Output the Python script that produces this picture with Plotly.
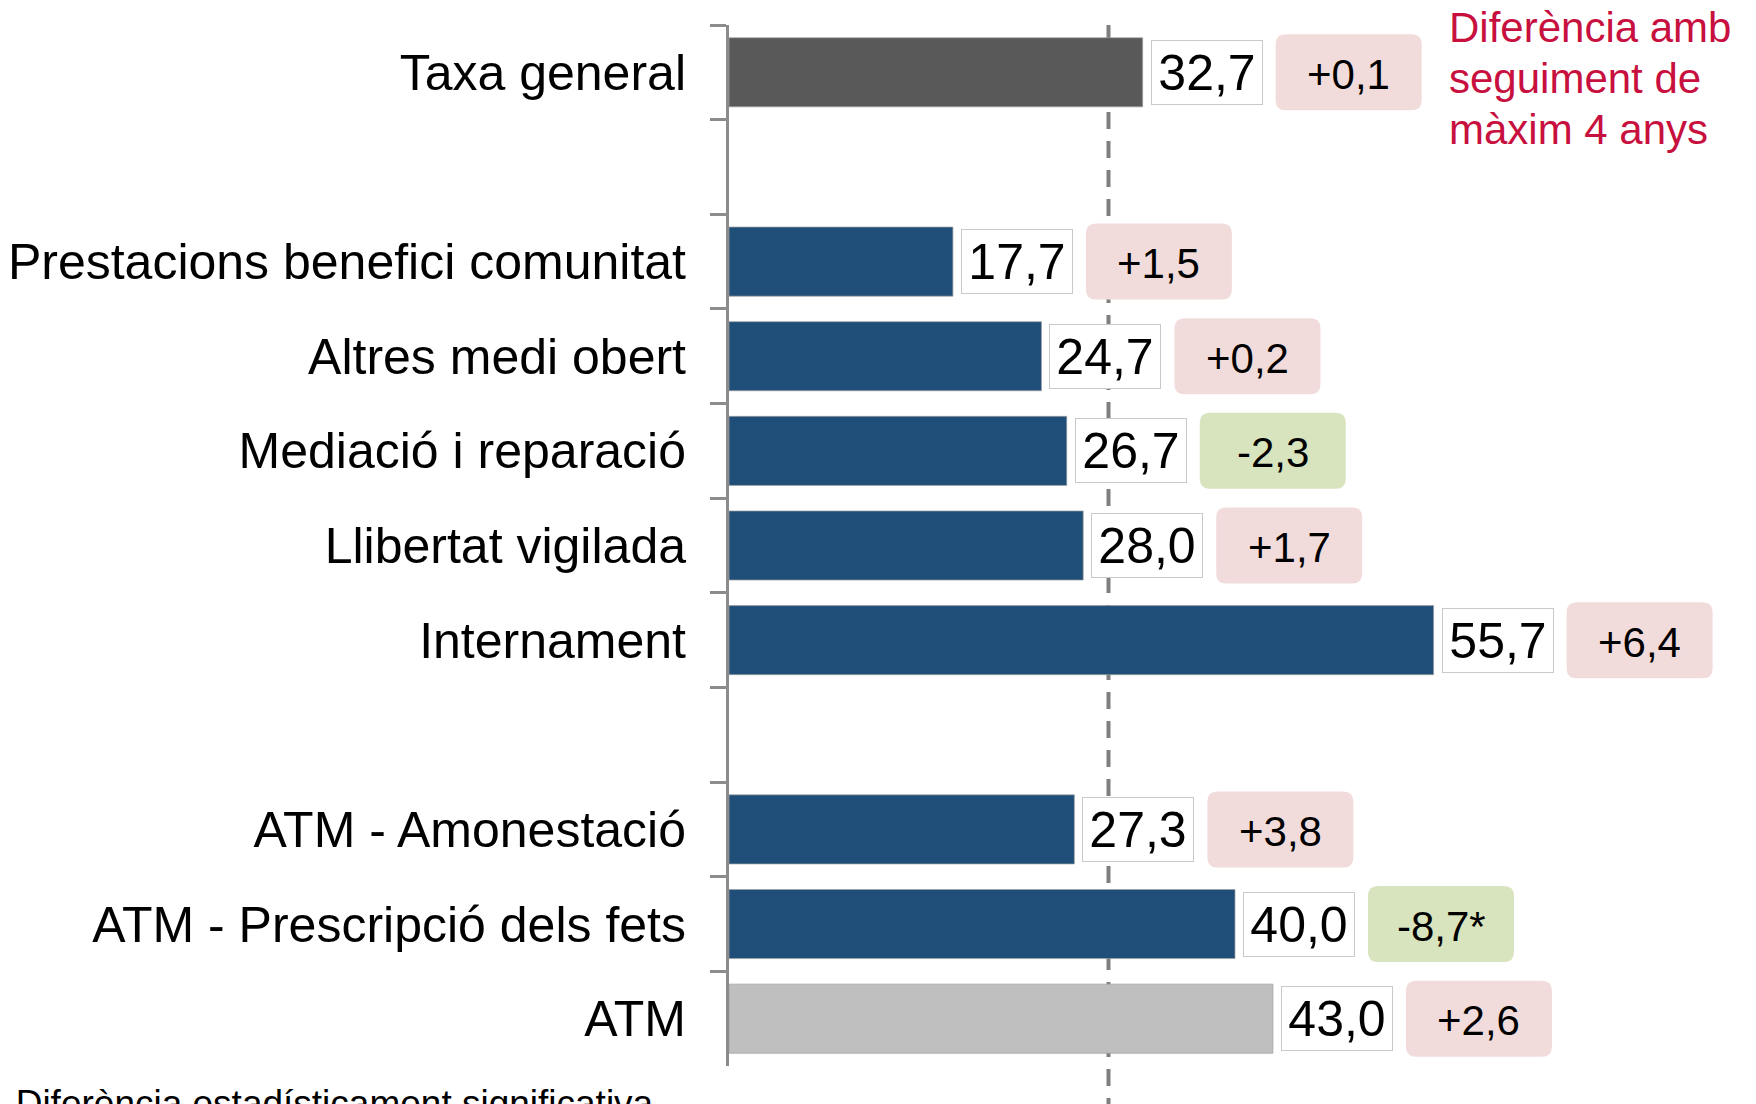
import plotly.graph_objects as go

# categories top to bottom, blank strings are the gaps between groups
order = ["Taxa general", " ",
         "Prestacions benefici comunitat", "Altres medi obert", "Mediació i reparació",
         "Llibertat vigilada", "Internament", "  ",
         "ATM - Amonestació", "ATM - Prescripció dels fets", "ATM"]

labels = ["Taxa general", "Prestacions benefici comunitat", "Altres medi obert",
          "Mediació i reparació", "Llibertat vigilada", "Internament",
          "ATM - Amonestació", "ATM - Prescripció dels fets", "ATM"]
taxa = [32.7, 17.7, 24.7, 26.7, 28.0, 55.7, 27.3, 40.0, 43.0]
diferencia = [0.1, 1.5, 0.2, -2.3, 1.7, 6.4, 3.8, -8.7, 2.6]
significativa = [False, False, False, False, False, False, False, True, False]
grup = ["general", "mesura", "mesura", "mesura", "mesura", "mesura", "mesura", "mesura", "atm"]
referencia = 30

llegenda = ["Diferència amb", "seguiment de", "màxim 4 anys"]
nota = "* Diferència estadísticament significativa"

GRUP_COLOR = {"general": "#595959", "mesura": "#1F4E79", "atm": "#BFBFBF"}
FONT = "Liberation Sans, Arial, sans-serif"


def coma(v, signe=False):
    s = f"{v:+.1f}" if signe else f"{v:.1f}"
    return s.replace(".", ",")


fig = go.Figure()
fig.add_trace(go.Bar(
    x=taxa, y=labels, orientation="h",
    marker_color=[GRUP_COLOR[g] for g in grup],
    marker_line=dict(color="rgba(160,160,160,0.7)", width=1),
    showlegend=False, hoverinfo="skip"))

# dashed reference line
fig.add_shape(type="line", xref="x", yref="paper", x0=referencia, x1=referencia,
              y0=1, y1=-0.06, layer="below",
              line=dict(color="#7F7F7F", width=4, dash="17px,12px"))

BOX_L, BOX_W, BOX_H, R = 133, 146, 76, 10
for lab, v, d, sig in zip(labels, taxa, diferencia, significativa):
    # value label in white box
    fig.add_annotation(x=v, y=lab, xref="x", yref="y", xanchor="left", xshift=8,
                       text=coma(v), showarrow=False, width=110, height=63,
                       bgcolor="white", bordercolor="#C9C9C9", borderwidth=1, borderpad=0,
                       font=dict(size=50, color="black", family=FONT))
    # rounded difference box
    x0, x1, h = BOX_L, BOX_L + BOX_W, BOX_H / 2
    path = (f"M{x0 + R},{h} L{x1 - R},{h} Q{x1},{h} {x1},{h - R} "
            f"L{x1},{-h + R} Q{x1},{-h} {x1 - R},{-h} L{x0 + R},{-h} "
            f"Q{x0},{-h} {x0},{-h + R} L{x0},{h - R} Q{x0},{h} {x0 + R},{h} Z")
    fig.add_shape(type="path", path=path, xref="x", yref="y",
                  xsizemode="pixel", ysizemode="pixel", xanchor=v, yanchor=lab,
                  fillcolor="#D7E4BD" if d < 0 else "#F2DCDB", line_width=0)
    fig.add_annotation(x=v, y=lab, xref="x", yref="y", xanchor="center",
                       xshift=BOX_L + BOX_W / 2, yshift=-2,
                       text=coma(d, True) + ("*" if sig else ""), showarrow=False,
                       font=dict(size=42, color="black", family=FONT))

# legend text, one annotation per line for tighter spacing
for i, linia in enumerate(llegenda):
    fig.add_annotation(xref="paper", yref="paper", x=0.709, y=0.998 - 0.049 * i,
                       xanchor="left", yanchor="middle", text=linia, showarrow=False,
                       font=dict(size=42, color="#C8103F", family=FONT))

fig.add_annotation(xref="paper", yref="paper", x=-0.731, y=-0.0144, xanchor="left", yanchor="top",
                   text=nota, align="left", showarrow=False,
                   font=dict(size=37, color="black", family=FONT))

fig.update_layout(
    width=1756, height=1104,
    margin=dict(l=721, r=23, t=17, b=46),
    plot_bgcolor="white", paper_bgcolor="white",
    bargap=0.27,
    font=dict(family=FONT, color="black"),
    xaxis=dict(range=[0, 80], visible=False, fixedrange=True, automargin=False),
    yaxis=dict(type="category", categoryorder="array", categoryarray=order,
               range=[10.5, -0.5], showline=True, linecolor="#8C8C8C", linewidth=3,
               ticks="outside", tickson="boundaries", ticklen=16, tickwidth=3,
               tickcolor="#8C8C8C", ticklabelstandoff=30, showgrid=False, automargin=False,
               tickfont=dict(size=50, color="black", family=FONT)),
)

fig.write_html("out.html")
